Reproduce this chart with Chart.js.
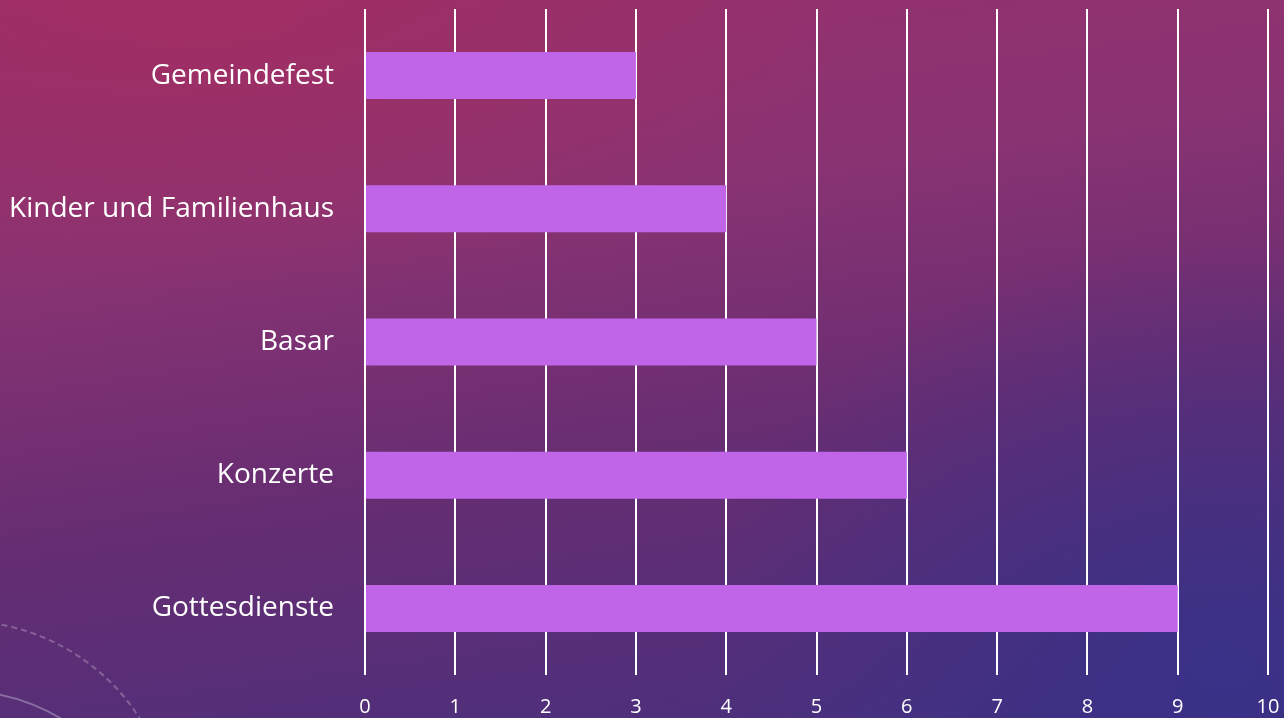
<!DOCTYPE html>
<html>
<head>
<meta charset="utf-8">
<script src="https://cdn.jsdelivr.net/npm/chart.js@4/dist/chart.umd.min.js"></script>
<style>
html,body{margin:0;padding:0;width:1284px;height:718px;overflow:hidden;}
body{
  background:
    radial-gradient(ellipse 520px 420px at 1220px 660px, rgba(48,50,140,0.7), rgba(48,50,140,0) 100%),
    radial-gradient(ellipse 650px 300px at 200px 0px, rgba(165,45,95,0.7), rgba(165,45,95,0) 100%),
    linear-gradient(172deg, #98306c 0%, #8a3372 30%, #652d72 62%, #47307e 100%);
  position:relative;
}
.deco{position:absolute;left:-250px;top:620px;width:420px;height:420px;border-radius:50%;border:2px dashed rgba(255,255,255,0.25);}
.deco2{position:absolute;left:-230px;top:690px;width:380px;height:380px;border-radius:50%;border:2px solid rgba(255,255,255,0.3);}
canvas{position:absolute;left:0;top:0;}
</style>
</head>
<body>
<div class="deco"></div>
<div class="deco2"></div>
<canvas id="c" width="1284" height="718"></canvas>
<script>
const categories = ["Gemeindefest", "Kinder und Familienhaus", "Basar", "Konzerte", "Gottesdienste"];
const values = [3, 4, 5, 6, 9];
const xTicks = [0, 1, 2, 3, 4, 5, 6, 7, 8, 9, 10];

const FONT = "'Open Sans', 'Noto Sans', sans-serif";

new Chart(document.getElementById('c'), {
  type: 'bar',
  data: {
    labels: categories,
    datasets: [{
      data: values,
      backgroundColor: '#c064e8',
      borderWidth: 0,
      categoryPercentage: 1,
      barPercentage: 0.353
    }]
  },
  options: {
    indexAxis: 'y',
    responsive: false,
    animation: false,
    devicePixelRatio: 1,
    layout: { padding: { top: 9, right: 16, left: 0, bottom: 0 } },
    plugins: { legend: { display: false }, tooltip: { enabled: false } },
    scales: {
      x: {
        min: 0, max: 10,
        afterBuildTicks: s => { s.ticks = xTicks.map(v => ({ value: v })); },
        afterFit: s => { s.height = 43; s.paddingLeft = 0; s.paddingRight = 0; },
        grid: { color: '#ffffff', lineWidth: 2, drawTicks: false },
        border: { display: false },
        ticks: { color: '#ffffff', font: { family: FONT, size: 20 }, padding: 20 }
      },
      y: {
        afterFit: s => { s.width = 365; s.paddingTop = 0; s.paddingBottom = 0; },
        grid: { display: false, drawTicks: false },
        border: { display: false },
        ticks: { color: '#ffffff', font: { family: FONT, size: 28 }, padding: 31 }
      }
    }
  }
});
</script>
</body>
</html>
